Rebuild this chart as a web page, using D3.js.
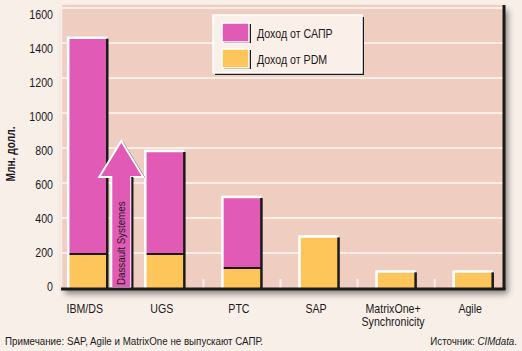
<!DOCTYPE html>
<html>
<head>
<meta charset="utf-8">
<script src="https://cdn.jsdelivr.net/npm/d3@7"></script>
<style>
  body { margin: 0; background: #f9efe9; }
  text { font-family: "Liberation Sans Narrow", "Arial Narrow", "Liberation Sans", sans-serif; fill: #1a1a1a; }
</style>
</head>
<body>
<div id="chart"></div>
<script>
// данные
const companies = ["IBM/DS", "UGS", "PTC", "SAP", "MatrixOne+\nSynchronicity", "Agile"];
const pdm = [195, 195, 115, 295, 95, 95];
const cad = [1235, 588, 405, 0, 0, 0];
const yTicks = [0, 200, 400, 600, 800, 1000, 1200, 1400, 1600];
const seriesNames = ["Доход от САПР", "Доход от PDM"];
const arrowLabel = "Dassault Systemes";
const arrowTop = 840, arrowHead = 635;

const W = 522, H = 351;
const pink = "#e05ab6", yellow = "#fec65a";
const plotBg = "#efcdc1", grid = "#fbeee8";
const sx = 0.85; // шрифт узкий, сжимаем по горизонтали

const svg = d3.select("#chart").append("svg")
  .attr("width", W).attr("height", H);

const defs = svg.append("defs");
const f = defs.append("filter").attr("id", "sh").attr("x", "-10%").attr("y", "-10%").attr("width", "130%").attr("height", "130%");
f.append("feDropShadow").attr("dx", 4).attr("dy", 5).attr("stdDeviation", 3).attr("flood-color", "#000").attr("flood-opacity", 0.45);

// текст в узком начертании
function label(parent, tx, ty, rot) {
  return parent.append("g")
    .attr("transform", `translate(${tx},${ty})${rot ? " rotate(" + rot + ")" : ""} scale(${sx},1)`)
    .append("text");
}

const pLeft = 61, pRight = 504, pTop = 5, pBottom = 289;

const x = d3.scaleBand()
  .domain(companies)
  .range([pLeft, pRight])
  .paddingInner(0.4935)
  .paddingOuter(0.12)
  .align(0.39);

const y = d3.scaleLinear().domain([0, 1600]).range([288, 8]);
const yLab = d3.scaleLinear().domain([0, 1600]).range([291, 19]);

// фон области графика с тенью
svg.append("rect")
  .attr("x", pLeft).attr("y", pTop)
  .attr("width", pRight - pLeft).attr("height", pBottom - pTop)
  .attr("fill", plotBg)
  .attr("filter", "url(#sh)");
svg.append("line")
  .attr("x1", pLeft + 0.5).attr("x2", pLeft + 0.5).attr("y1", pTop).attr("y2", pBottom)
  .attr("stroke", grid).attr("stroke-width", 1.5);

// сетка
svg.selectAll(".grid")
  .data(yTicks.filter(d => d > 0))
  .enter().append("line")
  .attr("x1", pLeft).attr("x2", pRight)
  .attr("y1", d => y(d)).attr("y2", d => y(d))
  .attr("stroke", grid).attr("stroke-width", 2);

// маленькие засечки между столбцами
svg.selectAll(".tick-mark")
  .data(companies.slice(1))
  .enter().append("line")
  .attr("x1", d => x(d) - (x.step() - x.bandwidth()) / 2)
  .attr("x2", d => x(d) - (x.step() - x.bandwidth()) / 2)
  .attr("y1", 279).attr("y2", 288)
  .attr("stroke", grid).attr("stroke-width", 2);

// столбцы
const bars = companies.map((c, i) => ({ c, pdm: pdm[i], total: pdm[i] + cad[i] }));
const bw = x.bandwidth();

bars.forEach(d => {
  const x0 = x(d.c);
  const g = svg.append("g");
  g.append("rect")
    .attr("x", x0).attr("y", y(d.pdm))
    .attr("width", bw).attr("height", y(0) - y(d.pdm))
    .attr("fill", yellow);
  if (d.total > d.pdm) {
    g.append("rect")
      .attr("x", x0).attr("y", y(d.total))
      .attr("width", bw).attr("height", y(d.pdm) - y(d.total))
      .attr("fill", pink);
    g.append("line")
      .attr("x1", x0).attr("x2", x0 + bw)
      .attr("y1", y(d.pdm)).attr("y2", y(d.pdm))
      .attr("stroke", "#1a1a1a").attr("stroke-width", 2);
  }
  g.append("path")
    .attr("d", `M${x0},${y(0)}V${y(d.total)}H${x0 + bw}`)
    .attr("fill", "none").attr("stroke", "#fff").attr("stroke-width", 2.5);
  g.append("line")
    .attr("x1", x0 + bw).attr("x2", x0 + bw)
    .attr("y1", y(d.total) + 1).attr("y2", y(0))
    .attr("stroke", "#1a1a1a").attr("stroke-width", 2.5);
});

// стрелка Dassault Systemes
const cx = x(companies[0]) + bw + (x.step() - bw) / 2 - 5;
const pts = [[cx - 10, y(0)], [cx - 10, y(arrowHead)], [cx - 22, y(arrowHead)], [cx, y(arrowTop)],
             [cx + 22, y(arrowHead)], [cx + 10, y(arrowHead)], [cx + 10, y(0)]];
svg.append("polygon")
  .attr("points", pts.map(p => [p[0] + 2, p[1] + 1].join(",")).join(" "))
  .attr("fill", "#1a1a1a");
svg.append("polygon")
  .attr("points", pts.map(p => p.join(",")).join(" "))
  .attr("fill", pink).attr("stroke", "#fff").attr("stroke-width", 2);
svg.append("line")
  .attr("x1", cx + 11).attr("x2", cx + 11).attr("y1", y(arrowHead)).attr("y2", y(0))
  .attr("stroke", "#1a1a1a").attr("stroke-width", 2);
label(svg, cx + 4, y(0) - 3, -90)
  .style("font-size", "11.5px")
  .text(arrowLabel);

// ось: чёрные линии снизу и справа
svg.append("line")
  .attr("x1", pLeft).attr("x2", pRight + 1.5).attr("y1", pBottom).attr("y2", pBottom)
  .attr("stroke", "#1a1a1a").attr("stroke-width", 3);
svg.append("line")
  .attr("x1", pRight).attr("x2", pRight).attr("y1", pTop).attr("y2", pBottom)
  .attr("stroke", "#1a1a1a").attr("stroke-width", 3);

// подписи оси Y
yTicks.forEach(v => {
  label(svg, 53, yLab(v))
    .attr("text-anchor", "end")
    .style("font-size", "12.5px")
    .text(v);
});

label(svg, 15, 154, -90)
  .attr("text-anchor", "middle")
  .style("font-size", "12px").style("font-weight", "bold")
  .text("Млн. долл.");

// подписи категорий
companies.forEach(c => {
  const t = label(svg, x(c) + bw / 2 - 3, 313)
    .attr("text-anchor", "middle")
    .style("font-size", "12.5px");
  c.split("\n").forEach((s, i) => {
    t.append("tspan").attr("x", 0).attr("dy", i ? 13 : 0).text(s);
  });
});

// легенда
const lg = svg.append("g").attr("transform", "translate(213,15)");
lg.append("rect").attr("x", 2).attr("y", 2).attr("width", 149).attr("height", 58).attr("fill", "#1a1a1a");
lg.append("rect").attr("width", 149).attr("height", 58).attr("fill", "#fbefe9")
  .attr("stroke", "#fff").attr("stroke-width", 1.5);
[pink, yellow].forEach((col, i) => {
  const gy = 8 + i * 26;
  lg.append("rect").attr("x", 11).attr("y", gy + 1).attr("width", 27).attr("height", 19).attr("fill", "#1a1a1a");
  lg.append("rect").attr("x", 9).attr("y", gy).attr("width", 27).attr("height", 19).attr("fill", col)
    .attr("stroke", "#fff").attr("stroke-width", 1.5);
  label(lg, 44, gy + 15)
    .style("font-size", "12.5px").text(seriesNames[i]);
});

// примечания
label(svg, 5, 345)
  .style("font-size", "11.5px")
  .text("Примечание: SAP, Agile и MatrixOne не выпускают САПР.");
const src = label(svg, 517, 345)
  .attr("text-anchor", "end").style("font-size", "11.5px");
src.append("tspan").text("Источник: ");
src.append("tspan").style("font-style", "italic").text("CIMdata");
src.append("tspan").text(".");
</script>
</body>
</html>
